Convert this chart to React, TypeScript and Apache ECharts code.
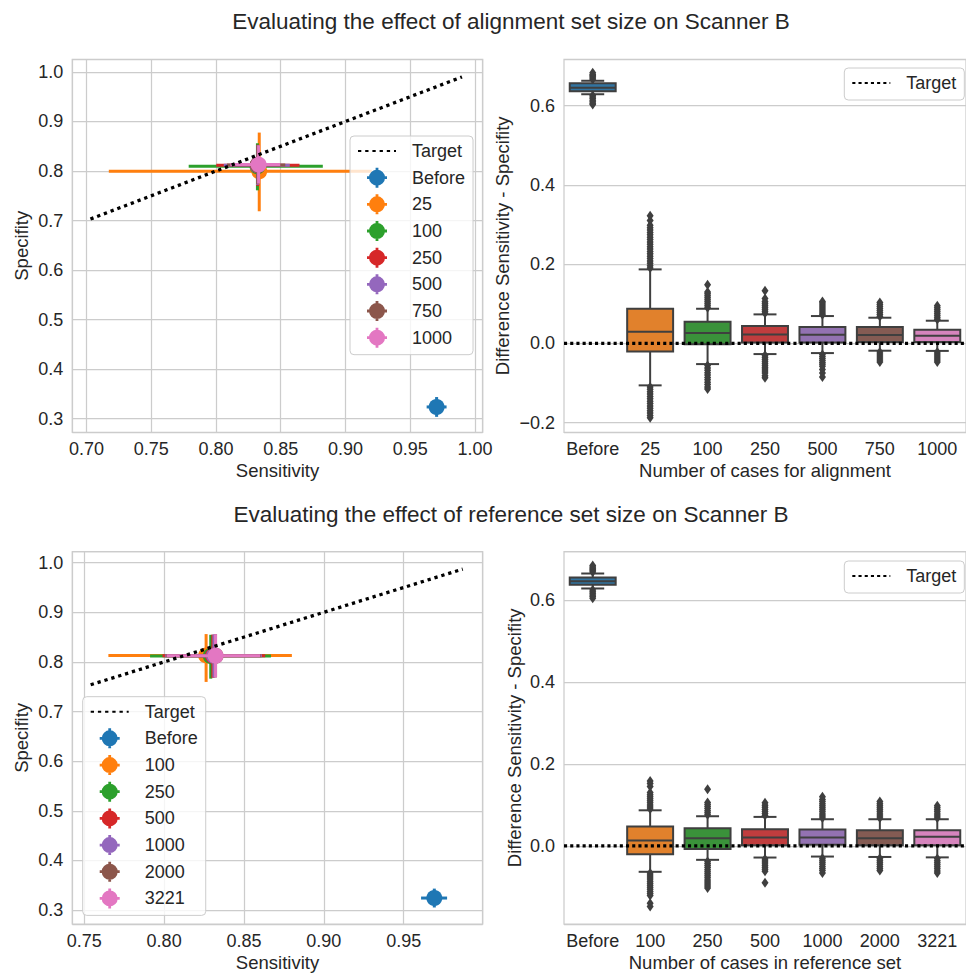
import React, { useEffect, useRef } from 'react';
import * as echarts from 'echarts';

const FONT = "'Liberation Sans', Arial, sans-serif";
const TEXT = '#262626';
const GRID_C = '#cccccc';
const EDGE = '#3f3f3f';

const TITLE_TOP = 'Evaluating the effect of alignment set size on Scanner B';
const TITLE_BOTTOM = 'Evaluating the effect of reference set size on Scanner B';

// ---------- Top row: alignment set size ----------
const GROUPS_A = ['Before', '25', '100', '250', '500', '750', '1000'];
const SENS_A = [0.9704, 0.8334, 0.832, 0.8322, 0.8321, 0.8322, 0.8329];
const SPEC_A = [0.3235, 0.7996, 0.8096, 0.8116, 0.8118, 0.812, 0.813];
const SENS_LO_A = [0.9627, 0.7172, 0.7789, 0.8002, 0.806, 0.8085, 0.8111];
const SENS_HI_A = [0.9781, 0.9203, 0.8825, 0.8645, 0.857, 0.8535, 0.8496];
const SPEC_LO_A = [0.3035, 0.7187, 0.761, 0.77, 0.772, 0.774, 0.7746];
const SPEC_HI_A = [0.3435, 0.8776, 0.856, 0.853, 0.852, 0.852, 0.852];
const TARGET_A = [0.703, 0.99];

const BOX_LOW_A = [0.629, -0.106, -0.0523, -0.027, -0.0245, -0.0185, -0.019];
const BOX_Q1_A = [0.6364, -0.0202, -0.0025, 0.0025, 0.0025, 0.0034, 0.0034];
const BOX_MED_A = [0.6455, 0.0294, 0.026, 0.0227, 0.022, 0.021, 0.019];
const BOX_Q3_A = [0.6566, 0.0874, 0.0546, 0.0437, 0.0412, 0.0412, 0.0345];
const BOX_HIGH_A = [0.663, 0.1868, 0.0874, 0.0732, 0.069, 0.0648, 0.0572];
const OUTLIERS_A = [
  [0.667, 0.67, 0.673, 0.676, 0.679, 0.683, 0.626, 0.622, 0.618, 0.614, 0.61, 0.606, 0.603],
  [0.19, 0.196, 0.202, 0.208, 0.214, 0.22, 0.226, 0.232, 0.238, 0.244, 0.25, 0.256, 0.262, 0.268, 0.274, 0.28, 0.286, 0.292, 0.298, 0.31, 0.322,
    -0.11, -0.116, -0.122, -0.128, -0.134, -0.14, -0.146, -0.152, -0.158, -0.164, -0.17, -0.176, -0.182, -0.188],
  [0.09, 0.095, 0.1, 0.105, 0.11, 0.115, 0.12, 0.125, 0.13, 0.148,
    -0.056, -0.062, -0.068, -0.074, -0.08, -0.086, -0.092, -0.098, -0.104, -0.11, -0.115],
  [0.076, 0.081, 0.086, 0.091, 0.096, 0.101, 0.106, 0.113, 0.133,
    -0.03, -0.035, -0.04, -0.045, -0.05, -0.055, -0.06, -0.065, -0.07, -0.075, -0.082, -0.087],
  [0.072, 0.077, 0.082, 0.087, 0.092, 0.097, 0.102, 0.106,
    -0.028, -0.033, -0.038, -0.043, -0.048, -0.053, -0.058, -0.066, -0.075, -0.085],
  [0.068, 0.073, 0.078, 0.083, 0.088, 0.093, 0.098, 0.103,
    -0.022, -0.027, -0.032, -0.037, -0.042, -0.047],
  [0.06, 0.065, 0.07, 0.075, 0.08, 0.085, 0.09, 0.095,
    -0.022, -0.027, -0.032, -0.037, -0.042, -0.047],
];

// ---------- Bottom row: reference set size ----------
const GROUPS_B = ['Before', '100', '250', '500', '1000', '2000', '3221'];
const SENS_B = [0.9692, 0.8263, 0.8292, 0.8305, 0.8312, 0.8322, 0.8322];
const SPEC_B = [0.3242, 0.8131, 0.812, 0.8122, 0.8123, 0.8124, 0.8125];
const SENS_LO_B = [0.9609, 0.7651, 0.7912, 0.799, 0.8005, 0.801, 0.8016];
const SENS_HI_B = [0.9772, 0.88, 0.8669, 0.8633, 0.8612, 0.8605, 0.8601];
const SPEC_LO_B = [0.3052, 0.7597, 0.7663, 0.768, 0.7685, 0.7689, 0.7689];
const SPEC_HI_B = [0.3432, 0.8561, 0.8547, 0.855, 0.8555, 0.856, 0.856];
const TARGET_B = [0.754, 0.987];

const BOX_LOW_B = [0.6278, -0.0632, -0.034, -0.0284, -0.026, -0.027, -0.028];
const BOX_Q1_B = [0.6367, -0.0202, -0.0073, 0.0017, 0.0025, 0.0017, 0.0017];
const BOX_MED_B = [0.6457, 0.0131, 0.0187, 0.0203, 0.0203, 0.0187, 0.022];
const BOX_Q3_B = [0.6545, 0.0472, 0.0431, 0.0406, 0.0398, 0.0382, 0.0382];
const BOX_HIGH_B = [0.6643, 0.0868, 0.0723, 0.0707, 0.065, 0.065, 0.065];
const OUTLIERS_B = [
  [0.668, 0.671, 0.674, 0.677, 0.68, 0.684, 0.624, 0.62, 0.616, 0.612, 0.608, 0.604],
  [0.09, 0.095, 0.1, 0.105, 0.11, 0.115, 0.12, 0.125, 0.13, 0.145, 0.152, 0.158,
    -0.066, -0.071, -0.076, -0.081, -0.086, -0.091, -0.096, -0.101, -0.106, -0.111, -0.116, -0.121, -0.14, -0.148],
  [0.076, 0.081, 0.086, 0.091, 0.096, 0.101, 0.106, 0.138,
    -0.038, -0.043, -0.048, -0.053, -0.058, -0.063, -0.068, -0.073, -0.078, -0.083, -0.088, -0.093, -0.098, -0.103],
  [0.074, 0.079, 0.084, 0.089, 0.094, 0.099, 0.105,
    -0.032, -0.037, -0.042, -0.047, -0.052, -0.057, -0.062, -0.09],
  [0.068, 0.073, 0.078, 0.083, 0.088, 0.093, 0.098, 0.103, 0.108, 0.113, 0.12,
    -0.03, -0.035, -0.04, -0.045, -0.05, -0.055, -0.06, -0.066],
  [0.068, 0.073, 0.078, 0.083, 0.088, 0.093, 0.098, 0.103, 0.108,
    -0.03, -0.035, -0.04, -0.045, -0.05, -0.055, -0.06],
  [0.068, 0.073, 0.078, 0.083, 0.088, 0.093, 0.098,
    -0.031, -0.036, -0.041, -0.046, -0.051, -0.056, -0.061, -0.066],
];

const TARGET_DIFF = [0, 0];

const POINT_COLORS = ['#1f77b4', '#ff7f0e', '#2ca02c', '#d62728', '#9467bd', '#8c564b', '#e377c2'];
const BOX_COLORS = ['#3274a1', '#e1812c', '#3a923a', '#c03d3e', '#9372b2', '#845b53', '#d684bd'];

const ERR_ICON =
  'path://M-10,-1.4H10V1.4H-10Z M-1.4,-10H1.4V10H-1.4Z M8,0A8,8 0 1,1 -8,0A8,8 0 1,1 8,0Z';

const DOT_DIAG = { width: 3.3, type: [3.3, 3.9] };
const DOT_FLAT = { width: 3.3, type: [3.1, 3.1] };

function errRender(params: any, api: any) {
  const x = api.value(0);
  const y = api.value(1);
  const p = api.coord([x, y]);
  const xl = api.coord([api.value(2), y]);
  const xh = api.coord([api.value(3), y]);
  const yl = api.coord([x, api.value(4)]);
  const yh = api.coord([x, api.value(5)]);
  const color = api.visual('color');
  const ls = { stroke: color, lineWidth: 3 };
  return {
    type: 'group',
    children: [
      { type: 'line', shape: { x1: xl[0], y1: p[1], x2: xh[0], y2: p[1] }, style: ls },
      { type: 'line', shape: { x1: p[0], y1: yh[1], x2: p[0], y2: yl[1] }, style: ls },
      { type: 'circle', shape: { cx: p[0], cy: p[1], r: 8 }, style: { fill: color } },
    ],
  };
}

function boxRender(params: any, api: any) {
  const i = api.value(0);
  const lo = api.coord([i, api.value(1)]);
  const q1 = api.coord([i, api.value(2)]);
  const md = api.coord([i, api.value(3)]);
  const q3 = api.coord([i, api.value(4)]);
  const hi = api.coord([i, api.value(5)]);
  const band = api.size([1, 0])[0];
  const w = band * 0.8;
  const cx = md[0];
  const color = api.visual('color');
  const ls = { stroke: EDGE, lineWidth: 2 };
  return {
    type: 'group',
    children: [
      { type: 'line', shape: { x1: cx, y1: q3[1], x2: cx, y2: hi[1] }, style: ls },
      { type: 'line', shape: { x1: cx, y1: q1[1], x2: cx, y2: lo[1] }, style: ls },
      { type: 'line', shape: { x1: cx - w / 4, y1: hi[1], x2: cx + w / 4, y2: hi[1] }, style: ls },
      { type: 'line', shape: { x1: cx - w / 4, y1: lo[1], x2: cx + w / 4, y2: lo[1] }, style: ls },
      { type: 'rect', shape: { x: cx - w / 2, y: q3[1], width: w, height: q1[1] - q3[1] }, style: { fill: color, stroke: EDGE, lineWidth: 2 } },
      { type: 'line', shape: { x1: cx - w / 2, y1: md[1], x2: cx + w / 2, y2: md[1] }, style: ls },
    ],
  };
}

const fmtSigned = (d: number) => (v: number) => (v < 0 ? '\u2212' + Math.abs(v).toFixed(d) : v.toFixed(d));

const labelStyle = { fontSize: 18, color: TEXT, fontFamily: FONT };
const nameStyle = { fontSize: 18.5, color: TEXT, fontFamily: FONT };
const splitLine = { show: true, lineStyle: { color: GRID_C, width: 1.25 } };

function valueAxis(gridIndex: number, min: number, max: number, splitNumber: number, name: string, nameGap: number, digits: number, margin: number, grid = true) {
  return {
    type: 'value', gridIndex, min, max, splitNumber, name, nameGap, nameLocation: 'middle',
    nameTextStyle: nameStyle,
    axisLine: { show: false }, axisTick: { show: false },
    axisLabel: { ...labelStyle, margin, formatter: fmtSigned(digits), showMinLabel: false, showMaxLabel: false },
    splitLine: grid ? splitLine : { show: false },
  };
}

function catAxis(gridIndex: number, data: string[], name: string) {
  return {
    type: 'category', gridIndex, data, name, nameGap: 29, nameLocation: 'middle',
    nameTextStyle: nameStyle,
    axisLine: { show: false }, axisTick: { show: false },
    axisLabel: { ...labelStyle, margin: 8, interval: 0 },
    splitLine: { show: false },
  };
}

function legend(data: any[], left: number, top: number) {
  return {
    orient: 'vertical', left, top, selectedMode: false,
    itemWidth: 38, itemHeight: 20, itemGap: 6.67,
    padding: [5, 8, 7, 7],
    backgroundColor: 'rgba(255,255,255,0.8)', borderColor: '#cccccc', borderWidth: 1, borderRadius: 4,
    textStyle: { fontSize: 18, color: TEXT, fontFamily: FONT, lineHeight: 20, padding: [0, 0, 0, 11] },
    formatter: (n: string) => n.split('|')[1],
    data,
  };
}

function targetSeries(name: string, xAxisIndex: number, yAxisIndex: number, data: number[][], dots: any, z = 2) {
  return {
    name, type: 'line', xAxisIndex, yAxisIndex, data, symbol: 'none', z,
    lineStyle: { color: '#000000', width: dots.width, type: dots.type, cap: 'butt' },
    itemStyle: { color: '#000000' },
  };
}

function errSeries(prefix: string, groups: string[], sens: number[], spec: number[], sl: number[], sh: number[], yl: number[], yh: number[], xi: number, yi: number) {
  return groups.map((g, i) => ({
    name: prefix + '|' + g, type: 'custom', xAxisIndex: xi, yAxisIndex: yi,
    itemStyle: { color: POINT_COLORS[i] },
    renderItem: errRender,
    data: [[sens[i], spec[i], sl[i], sh[i], yl[i], yh[i]]],
    encode: { x: 0, y: 1 },
  }));
}

function boxSeries(name: string, low: number[], q1: number[], med: number[], q3: number[], high: number[], xi: number, yi: number) {
  return {
    name, type: 'custom', xAxisIndex: xi, yAxisIndex: yi,
    renderItem: boxRender,
    encode: { x: 0, y: [1, 2, 3, 4, 5] },
    data: low.map((_, i) => ({ value: [i, low[i], q1[i], med[i], q3[i], high[i]], itemStyle: { color: BOX_COLORS[i] } })),
  };
}

function outlierSeries(name: string, outliers: number[][], xi: number, yi: number) {
  const data: number[][] = [];
  outliers.forEach((arr, i) => arr.forEach((v) => data.push([i, v])));
  return {
    name, type: 'scatter', xAxisIndex: xi, yAxisIndex: yi, data,
    symbol: 'diamond', symbolSize: [7, 10], itemStyle: { color: EDGE, opacity: 1 }, z: 3,
  };
}

function legendData(prefix: string, groups: string[]) {
  return [
    { name: prefix + '|Target', itemStyle: { opacity: 0 } },
    ...groups.map((g) => ({ name: prefix + '|' + g, icon: ERR_ICON })),
  ];
}

export default function App() {
  const ref = useRef<HTMLDivElement>(null);
  useEffect(() => {
    if (!ref.current) return;
    const chart = echarts.init(ref.current, null, { renderer: 'svg' });
    const gridBase = { show: true, borderColor: GRID_C, borderWidth: 1.25, backgroundColor: 'transparent', containLabel: false };
    const option: any = {
      animation: false,
      textStyle: { fontFamily: FONT },
      graphic: [
        { type: 'text', x: 511, y: 21, style: { text: TITLE_TOP, fontSize: 22.5, fontFamily: FONT, fill: TEXT, align: 'center', verticalAlign: 'middle' } },
        { type: 'text', x: 511, y: 514, style: { text: TITLE_BOTTOM, fontSize: 22.5, fontFamily: FONT, fill: TEXT, align: 'center', verticalAlign: 'middle' } },
      ],
      grid: [
        { ...gridBase, left: 72.3, top: 59.3, width: 410.4, height: 373 },
        { ...gridBase, left: 564, top: 59.3, width: 411.4, height: 373 },
        { ...gridBase, left: 72.3, top: 551.7, width: 410.4, height: 373.3 },
        { ...gridBase, left: 564, top: 551.7, width: 411.4, height: 373.3 },
      ],
      xAxis: [
        valueAxis(0, 0.689, 1.006, 6, 'Sensitivity', 29, 2, 8),
        catAxis(1, GROUPS_A, 'Number of cases for alignment'),
        { type: 'value', gridIndex: 1, min: 0, max: 1, show: false, splitLine: { show: false } },
        valueAxis(2, 0.7425, 0.9995, 5, 'Sensitivity', 29, 2, 8),
        catAxis(3, GROUPS_B, 'Number of cases in reference set'),
        { type: 'value', gridIndex: 3, min: 0, max: 1, show: false, splitLine: { show: false } },
      ],
      yAxis: [
        valueAxis(0, 0.2723, 1.0256, 7, 'Specifity', 41, 1, 9),
        valueAxis(1, -0.2245, 0.7172, 5, 'Difference Sensitivity - Specifity', 52, 1, 9),
        valueAxis(2, 0.2719, 1.0221, 7, 'Specifity', 41, 1, 9),
        valueAxis(3, -0.1905, 0.7175, 5, 'Difference Sensitivity - Specifity', 40, 1, 9),
      ],
      legend: [
        legend(legendData('A', GROUPS_A), 350, 136),
        legend([{ name: 'C|Target', itemStyle: { opacity: 0 } }], 844.3, 68),
        legend(legendData('B', GROUPS_B), 82.7, 696.7),
        legend([{ name: 'D|Target', itemStyle: { opacity: 0 } }], 844.3, 561),
      ],
      series: [
        targetSeries('A|Target', 0, 0, [[TARGET_A[0], TARGET_A[0]], [TARGET_A[1], TARGET_A[1]]], DOT_DIAG),
        ...errSeries('A', GROUPS_A, SENS_A, SPEC_A, SENS_LO_A, SENS_HI_A, SPEC_LO_A, SPEC_HI_A, 0, 0),
        boxSeries('boxA', BOX_LOW_A, BOX_Q1_A, BOX_MED_A, BOX_Q3_A, BOX_HIGH_A, 1, 1),
        outlierSeries('outA', OUTLIERS_A, 1, 1),
        targetSeries('C|Target', 2, 1, [[0, TARGET_DIFF[0]], [1, TARGET_DIFF[1]]], DOT_FLAT, 4),
        targetSeries('B|Target', 3, 2, [[TARGET_B[0], TARGET_B[0]], [TARGET_B[1], TARGET_B[1]]], DOT_DIAG),
        ...errSeries('B', GROUPS_B, SENS_B, SPEC_B, SENS_LO_B, SENS_HI_B, SPEC_LO_B, SPEC_HI_B, 3, 2),
        boxSeries('boxB', BOX_LOW_B, BOX_Q1_B, BOX_MED_B, BOX_Q3_B, BOX_HIGH_B, 4, 3),
        outlierSeries('outB', OUTLIERS_B, 4, 3),
        targetSeries('D|Target', 5, 3, [[0, TARGET_DIFF[0]], [1, TARGET_DIFF[1]]], DOT_FLAT, 4),
      ],
    };
    chart.setOption(option);
    return () => chart.dispose();
  }, []);
  return <div ref={ref} style={{ position: 'absolute', left: 0, top: 0, width: 966, height: 973, background: '#ffffff' }} />;
}
